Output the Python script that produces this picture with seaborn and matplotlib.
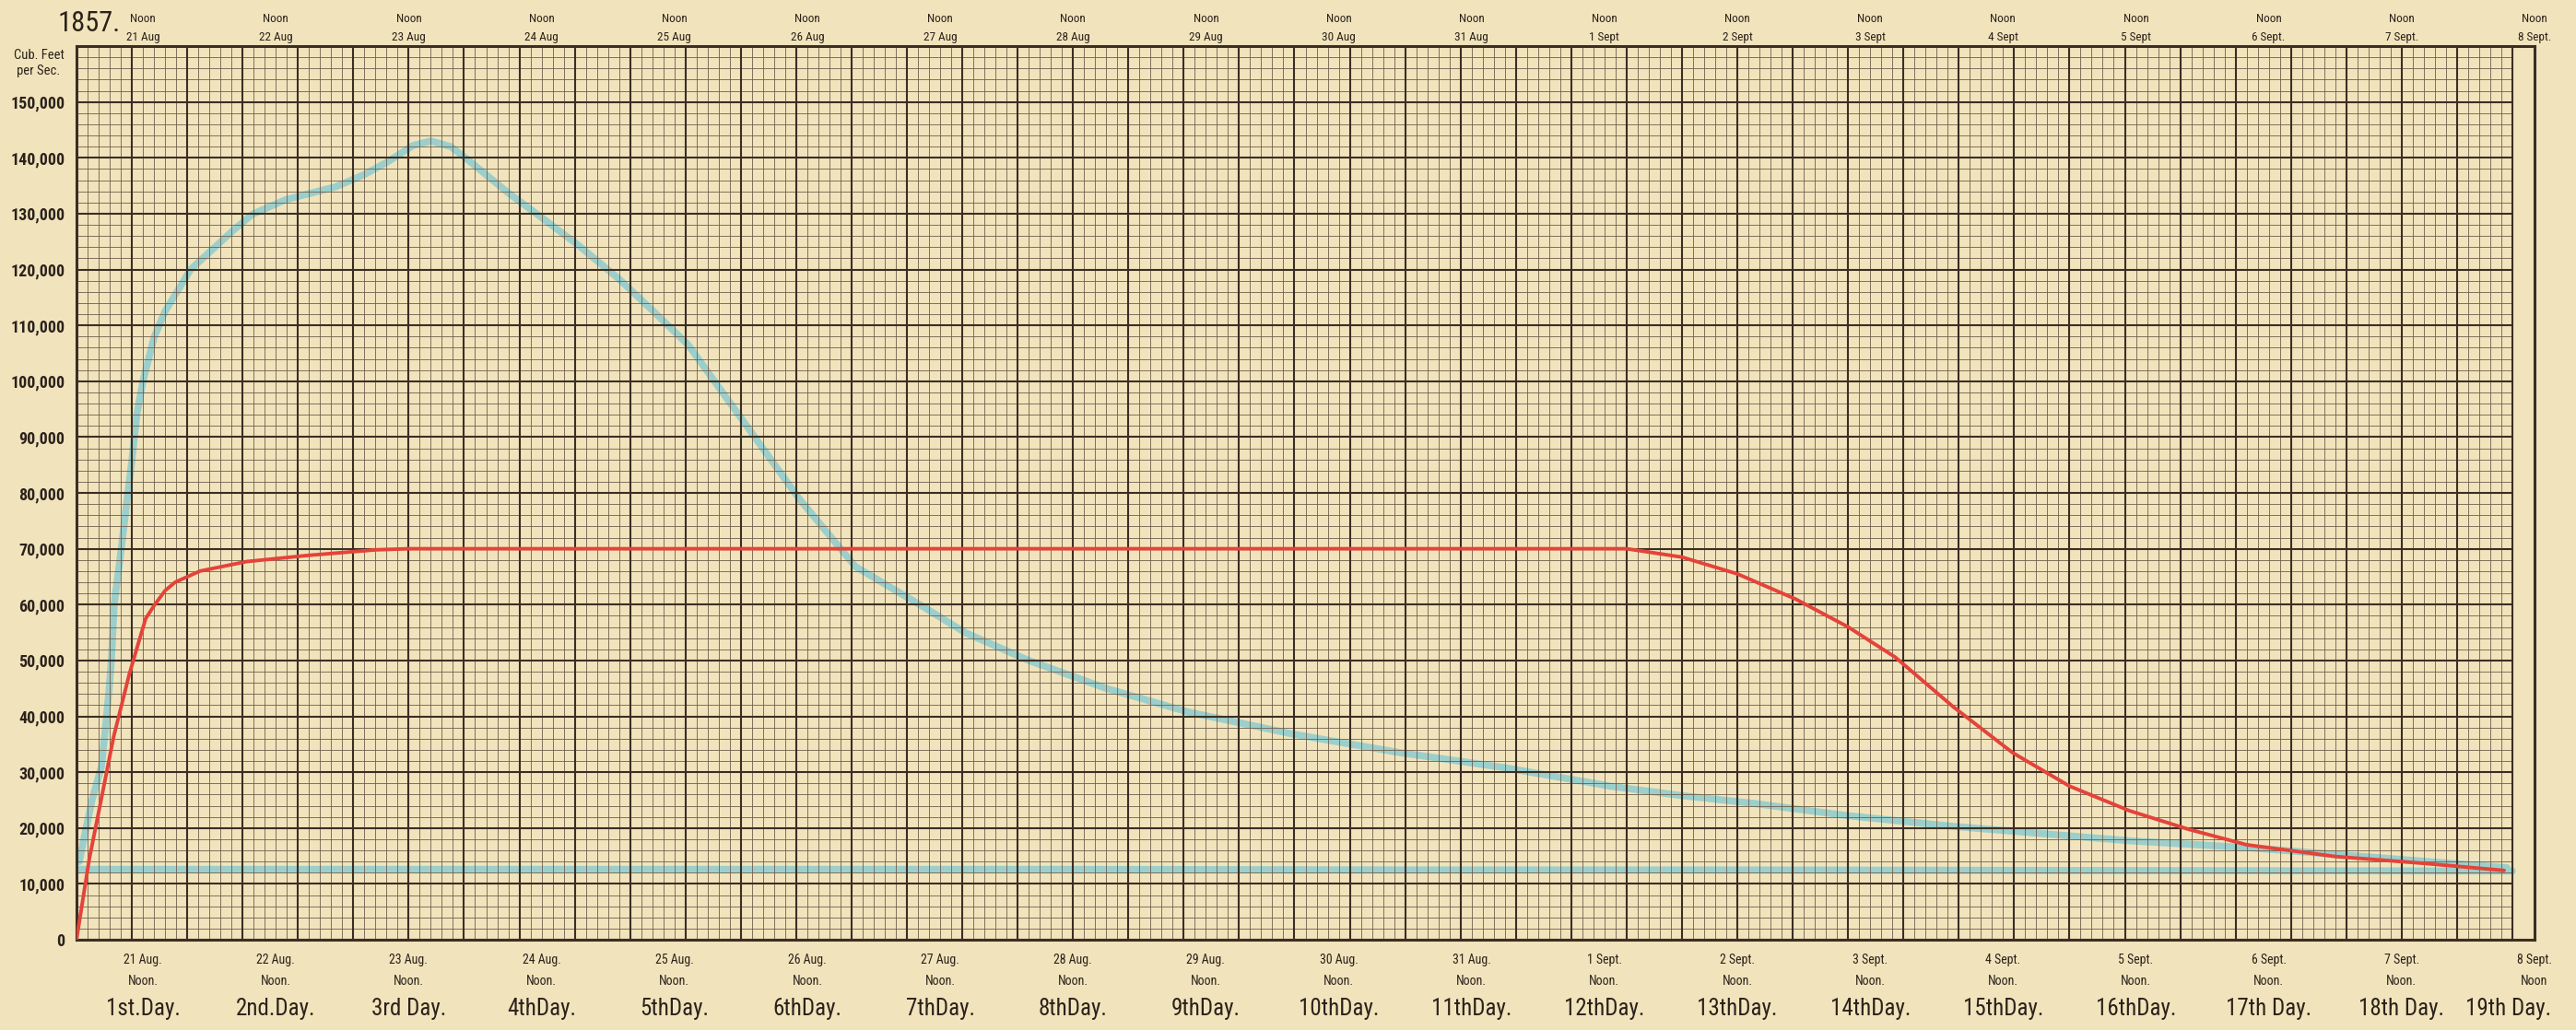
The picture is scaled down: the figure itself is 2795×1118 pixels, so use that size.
import matplotlib
matplotlib.use("Agg")
import matplotlib.pyplot as plt
from matplotlib import font_manager
import numpy as np
import pandas as pd
import seaborn as sns

# ---------------- data (hours after midnight, 21 Aug 1857; cubic feet per second) -------------
flood_hours = [0.5, 1.7, 2.8, 4.5, 5.3, 5.9, 6.3, 6.8, 7.8, 9.0, 10.0, 10.9, 12.0, 14.0, 16.0,
               20.6, 25.0, 28.3, 31.8, 37.8, 46.8, 52.0, 56.4, 60.8, 64.0, 67.6, 70.5, 78.0,
               83.2, 90.7, 98.0, 104.0, 110.5, 119.6, 130.5, 140.7, 152.8, 160.5, 172.0,
               186.0, 200.7, 219.8, 239.0, 258.0, 277.0, 290.0, 303.0, 320.0, 339.0, 371.0,
               392.0, 413.0, 439.0]
flood_cfs = [14000, 19800, 25000, 31000, 38500, 45000, 50000, 60000, 67700, 77600, 85800,
             94000, 100000, 107800, 112500, 120000, 124000, 127000, 129900, 132500, 134800,
             137000, 139400, 142200, 143000, 142000, 139800, 133700, 129900, 124300, 118300,
             112700, 106500, 94000, 79000, 66800, 59700, 55000, 50000, 45000, 40800, 36800,
             33500, 30800, 27500, 25800, 24400, 22200, 20300, 17700, 16500, 14900, 12900]

base_hours = [0.5, 60.0, 120.0, 180.0, 240.0, 300.0, 360.0, 440.0]
base_cfs = [12600, 12600, 12600, 12600, 12500, 12500, 12400, 12300]

regulated_hours = [0.0, 2.3, 4.5, 6.7, 9.5, 11.0, 12.5, 14.0, 16.0, 17.8, 22.3, 30.7, 41.7,
                   54.0, 60.0, 280.0, 290.0, 300.0, 310.5, 320.0, 328.5, 339.0, 349.7,
                   360.0, 370.8, 381.4, 392.0, 408.0, 423.7, 438.5]
regulated_cfs = [0, 14400, 25300, 36300, 47400, 52500, 57500, 59800, 62500, 64000, 66000,
                 67700, 68800, 69800, 70000, 70000, 68500, 65500, 61000, 56000, 50600, 41700,
                 33500, 27500, 23100, 19800, 17000, 14900, 13700, 12400]

y_tick_values = [0, 10000, 20000, 30000, 40000, 50000, 60000, 70000, 80000, 90000, 100000,
                 110000, 120000, 130000, 140000, 150000]
y_tick_labels = ["0", "10,000", "20,000", "30,000", "40,000", "50,000", "60,000", "70,000",
                 "80,000", "90,000", "100,000", "110,000", "120,000", "130,000", "140,000",
                 "150,000"]

top_dates = ["21 Aug", "22 Aug", "23 Aug", "24 Aug", "25 Aug", "26 Aug", "27 Aug", "28 Aug",
             "29 Aug", "30 Aug", "31 Aug", "1 Sept", "2 Sept", "3 Sept", "4 Sept", "5 Sept",
             "6 Sept.", "7 Sept.", "8 Sept."]
bottom_dates = ["21 Aug.", "22 Aug.", "23 Aug.", "24 Aug.", "25 Aug.", "26 Aug.", "27 Aug.",
                "28 Aug.", "29 Aug.", "30 Aug.", "31 Aug.", "1 Sept.", "2 Sept.", "3 Sept.",
                "4 Sept.", "5 Sept.", "6 Sept.", "7 Sept.", "8 Sept."]
noon_labels = ["Noon."] * 18 + ["Noon"]
day_labels = ["1st.Day.", "2nd.Day.", "3rd Day.", "4thDay.", "5thDay.", "6thDay.", "7thDay.",
              "8thDay.", "9thDay.", "10thDay.", "11thDay.", "12thDay.", "13thDay.", "14thDay.",
              "15thDay.", "16thDay.", "17th Day.", "18th Day.", "19th Day."]

# ---------------- style ----------------
PAPER = "#F1E4BC"
INK = "#2b221b"
GRID_MINOR = "#6e5d4b"
GRID_MAJOR = "#3a2e24"
BLUE = "#9ccfcb"
RED = "#e4433a"

sns.set_style("white")


def pick(names):
    for n in names:
        try:
            font_manager.findfont(font_manager.FontProperties(family=n),
                                  fallback_to_default=False)
            return n
        except Exception:
            pass
    return "DejaVu Sans"


NARROW = pick(["Liberation Sans Narrow", "Roboto Condensed", "Liberation Sans"])
plt.rcParams["font.family"] = [NARROW, "DejaVu Sans"]

W_PX, H_PX = 2795, 1118
fig = plt.figure(figsize=(W_PX / 100, H_PX / 100), dpi=100)
fig.patch.set_facecolor(PAPER)
left, right, bottom, top = 83, 2750, 1020, 50
ax = fig.add_axes([left / W_PX, (H_PX - bottom) / H_PX, (right - left) / W_PX,
                   (bottom - top) / H_PX])
ax.set_facecolor(PAPER)

X_END_GRID = 440
X_END = 444
Y_END = 160000
ax.set_xlim(0, X_END)
ax.set_ylim(0, Y_END)

# graph-paper grid
gx = np.arange(0, X_END_GRID + 1, 2)
gy = np.arange(0, Y_END + 1, 2000)
ax.vlines(gx[gx % 10 != 0], 0, Y_END, color=GRID_MINOR, lw=0.6, zorder=2)
ax.vlines(gx[gx % 10 == 0], 0, Y_END, color=GRID_MAJOR, lw=1.5, zorder=2.1)
ax.hlines(gy[gy % 10000 != 0], 0, X_END_GRID, color=GRID_MINOR, lw=0.6, zorder=2)
ax.hlines(gy[gy % 10000 == 0], 0, X_END_GRID, color=GRID_MAJOR, lw=1.5, zorder=2.1)

# data lines
df_flood = pd.DataFrame({"hour": flood_hours, "cfs": flood_cfs})
df_base = pd.DataFrame({"hour": base_hours, "cfs": base_cfs})
df_reg = pd.DataFrame({"hour": regulated_hours, "cfs": regulated_cfs})
sns.lineplot(data=df_flood, x="hour", y="cfs", ax=ax, color=BLUE, lw=5.5, zorder=1.5,
             estimator=None, sort=False, solid_capstyle="round", solid_joinstyle="round")
sns.lineplot(data=df_base, x="hour", y="cfs", ax=ax, color=BLUE, lw=5.5, zorder=1.5,
             estimator=None, sort=False, solid_capstyle="round")
sns.lineplot(data=df_reg, x="hour", y="cfs", ax=ax, color=RED, lw=2.8, zorder=3,
             estimator=None, sort=False, solid_joinstyle="round")

for s in ax.spines.values():
    s.set_visible(True)
    s.set_color(GRID_MAJOR)
    s.set_linewidth(2.2)

ax.set_xlabel("")
ax.set_ylabel("")
ax.set_yticks(y_tick_values, y_tick_labels)
ax.tick_params(axis="y", length=0, pad=9, labelsize=13, labelcolor=INK)
for t in ax.get_yticklabels():
    t.set_fontweight("bold")

day_hours = [12 + 24 * k for k in range(len(day_labels))]
ax.set_xticks(day_hours, bottom_dates)
ax.tick_params(axis="x", length=0, pad=11, labelsize=10, labelcolor=INK)

trans = ax.get_xaxis_transform()
px = 1.0 / (bottom - top)
n_days = len(day_hours)
for i, (h, nl, dl, td) in enumerate(zip(day_hours, noon_labels, day_labels, top_dates)):
    last = i == n_days - 1
    ax.text(h, -45 * px, nl, transform=trans, ha="center", va="center", fontsize=10,
            color=INK)
    ax.text(X_END + 3 if last else h, -75 * px, dl, transform=trans,
            ha="right" if last else "center", va="center", fontsize=18, color=INK)
    ax.text(h, 1.0 + 3 * px, td, transform=trans, ha="center", va="bottom", fontsize=9.5,
            color=INK)
    ax.text(h, 1.0 + 29 * px, "Noon", transform=trans, ha="center", va="center",
            fontsize=9.5, color=INK)

fig.text(63 / W_PX, 1 - 26 / H_PX, "1857.", ha="left", va="center", fontsize=22, color=INK)
fig.text(42 / W_PX, 1 - 60 / H_PX, "Cub. Feet", ha="center", va="center", fontsize=10.5,
         color=INK)
fig.text(42 / W_PX, 1 - 77 / H_PX, "per Sec.", ha="center", va="center", fontsize=10.5,
         color=INK)

fig.savefig("out.png", dpi=100, facecolor=PAPER)
